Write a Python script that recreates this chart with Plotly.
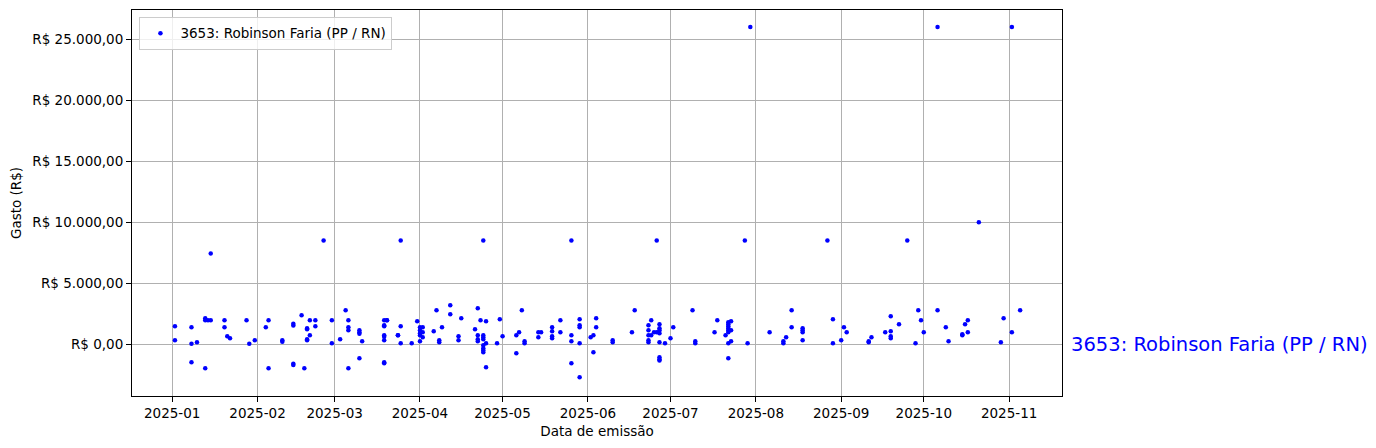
import plotly.graph_objects as go

# ---- data ----
datas = (
    ["2025-01-02"] * 2 + ["2025-01-08"] * 3 + ["2025-01-10"] + ["2025-01-13"] * 3 + ["2025-01-14"]
    + ["2025-01-15"] * 2 + ["2025-01-20"] * 2 + ["2025-01-21"] + ["2025-01-22"] + ["2025-01-28"]
    + ["2025-01-29"] + ["2025-01-31"] + ["2025-02-04"] + ["2025-02-05"] * 2 + ["2025-02-10"] * 2
    + ["2025-02-14"] * 4 + ["2025-02-17"] + ["2025-02-18"] + ["2025-02-19"] * 4 + ["2025-02-20"] * 2
    + ["2025-02-22"] * 2 + ["2025-02-25"] + ["2025-02-28"] * 2 + ["2025-03-03"] + ["2025-03-05"]
    + ["2025-03-06"] * 4 + ["2025-03-10"] * 4 + ["2025-03-11"] + ["2025-03-19"] * 8 + ["2025-03-20"] * 2
    + ["2025-03-24"] * 2 + ["2025-03-25"] * 3 + ["2025-03-29"] + ["2025-03-31"] + ["2025-04-01"] * 5
    + ["2025-04-02"] * 3 + ["2025-04-06"] + ["2025-04-07"] + ["2025-04-08"] * 2 + ["2025-04-09"]
    + ["2025-04-12"] * 2 + ["2025-04-15"] * 2 + ["2025-04-16"] + ["2025-04-21"] + ["2025-04-22"] * 4
    + ["2025-04-23"] + ["2025-04-24"] * 8 + ["2025-04-25"] * 3 + ["2025-04-29"] + ["2025-04-30"]
    + ["2025-05-01"] + ["2025-05-06"] * 2 + ["2025-05-07"] + ["2025-05-08"] + ["2025-05-09"] * 2
    + ["2025-05-14"] * 2 + ["2025-05-15"] + ["2025-05-19"] * 4 + ["2025-05-22"] * 2 + ["2025-05-26"] * 4
    + ["2025-05-29"] * 5 + ["2025-06-02"] + ["2025-06-03"] * 2 + ["2025-06-04"] * 2 + ["2025-06-10"] * 2
    + ["2025-06-17"] + ["2025-06-18"] + ["2025-06-23"] * 5 + ["2025-06-24"] * 2 + ["2025-06-25"]
    + ["2025-06-26"] * 2 + ["2025-06-27"] * 8 + ["2025-06-29"] + ["2025-07-01"] + ["2025-07-02"]
    + ["2025-07-09"] + ["2025-07-10"] * 2 + ["2025-07-17"] + ["2025-07-18"] + ["2025-07-21"]
    + ["2025-07-22"] * 8 + ["2025-07-23"] * 3 + ["2025-07-28"] + ["2025-07-29"] + ["2025-07-30"]
    + ["2025-08-06"] + ["2025-08-11"] * 2 + ["2025-08-12"] + ["2025-08-14"] * 2 + ["2025-08-18"] * 4
    + ["2025-08-27"] + ["2025-08-29"] * 2 + ["2025-09-01"] + ["2025-09-02"] + ["2025-09-03"]
    + ["2025-09-11"] * 2 + ["2025-09-12"] + ["2025-09-17"] + ["2025-09-19"] * 4 + ["2025-09-22"]
    + ["2025-09-25"] + ["2025-09-28"] + ["2025-09-29"] + ["2025-09-30"] + ["2025-10-01"]
    + ["2025-10-06"] * 2 + ["2025-10-09"] + ["2025-10-10"] + ["2025-10-15"] * 2 + ["2025-10-16"]
    + ["2025-10-17"] * 2 + ["2025-10-21"] + ["2025-10-29"] + ["2025-10-30"] + ["2025-11-02"] * 2
    + ["2025-11-05"]
)

gastos = [
    1475, 330, 1400, 50, -1480, 160, 2130, 1970, -1970, 1970,
    7450, 1970, 1970, 1400, 660, 490, 1970,
    50, 330, 1400, 1970, -1970, 330, 210,
    1690, 1530, -1590, -1700, 2380, -1970, 1310, 1230, 410, 330, 1970, 740,
    1970, 1475, 8500, 1970, 80, 410, 2790,
    1970, 1400, 1150, -1970, 1150, 980, 870, -1150, 250,
    1970, 1560, 1475, 740, 620, 330, -1475, -1560, 1970, 1970,
    740, 740, 8500, 1475, 80, 80, 1890, 250, 1400, 1150, 900, 740,
    1400, 980, 570, 1070, 2790, 330, 160, 1400,
    3200, 2460, 660, 330, 2130, 1230, 2950, 740, 410, 250,
    1970, 8500, 740, 570, 410, -80, -330, -490, -660, 1890, 80, -1890, 80, 2050,
    660, 740, -740, 980, 2790, 250, 80,
    980, 570, 980, 1400, 1070, 660, 490, 1970, 980, 8500, 740, 250, -1560,
    2050, 1560, 1400, 80, -2700, 570, 740, -660, 2130, 1400, 330, 160,
    980, 2790, 1560, 1150, 740, 330, 160, 1970, 740, 980,
    8500, 980, 1640, 1310, 1150, 900, 160, -1070, -1230, -1340, 80, 490, 1400,
    2790, 250, 80, 980, 1970, 740,
    1800, 1640, 1475, 1310, 1150, 980, 80, -1150, 1890, 1150, 250, 8500, 80, 26000,
    980, 250, 80, 570, 2790, 1400, 1310, 1150, 980, 330,
    8500, 2050, 80, 330, 1400, 980,
    160, 250, 570, 980, 2300, 1070, 660, 490, 1640,
    8500, 80, 2790, 1970, 980,
    2790, 26000, 1400, 250, 740, 820, 1640,
    1970, 980, 10000, 160, 2130, 980, 26000,
    2790,
]

nome = "3653: Robinson Faria (PP / RN)"

y_ticks = [0, 5000, 10000, 15000, 20000, 25000]
y_tick_labels = ["R$ 0,00", "R$ 5.000,00", "R$ 10.000,00", "R$ 15.000,00", "R$ 20.000,00", "R$ 25.000,00"]

x_ticks = ["2025-01-01", "2025-02-01", "2025-03-01", "2025-04-01", "2025-05-01", "2025-06-01",
           "2025-07-01", "2025-08-01", "2025-09-01", "2025-10-01", "2025-11-01"]
x_tick_labels = ["2025-01", "2025-02", "2025-03", "2025-04", "2025-05", "2025-06",
                 "2025-07", "2025-08", "2025-09", "2025-10", "2025-11"]

FONT = "DejaVu Sans"

fig = go.Figure()
fig.add_trace(go.Scatter(
    x=datas, y=gastos, mode="markers", name=nome,
    marker=dict(color="#0000ff", size=4.5, line=dict(width=0)),
))

fig.add_annotation(
    x=1.0, xref="paper", y=0, yref="y", text=nome, showarrow=False,
    xanchor="left", yanchor="middle", xshift=7,
    font=dict(family=FONT, size=19.5, color="#0000ff"),
)

axis_common = dict(
    showline=True, mirror=True, linecolor="black", linewidth=1,
    showgrid=True, gridcolor="#b0b0b0", gridwidth=1,
    ticks="outside", ticklen=5, tickcolor="black", tickwidth=1,
    zeroline=False, tickfont=dict(family=FONT, size=13.5, color="black"),
)

fig.update_layout(
    width=1368, height=440,
    margin=dict(l=124, r=314, t=2, b=52, autoexpand=False),
    paper_bgcolor="white", plot_bgcolor="white",
    font=dict(family=FONT, size=13.5, color="black"),
    showlegend=True,
    legend=dict(
        x=0.008, y=0.982, xanchor="left", yanchor="top",
        bgcolor="rgba(255,255,255,0.8)", bordercolor="#cccccc", borderwidth=1,
        font=dict(family=FONT, size=13.5, color="black"),
    ),
    xaxis=dict(
        **axis_common,
        type="date",
        range=["2024-12-17 09:36", "2025-11-20 05:00"],
        tickmode="array", tickvals=x_ticks, ticktext=x_tick_labels,
        title=dict(text="Data de emissão", standoff=6, font=dict(family=FONT, size=13.5)),
    ),
    yaxis=dict(
        **axis_common,
        range=[-4240, 27400],
        tickmode="array", tickvals=y_ticks, ticktext=y_tick_labels,
        title=dict(text="Gasto (R$)", standoff=8, font=dict(family=FONT, size=13.5)),
    ),
)

fig.write_html("out.html")
